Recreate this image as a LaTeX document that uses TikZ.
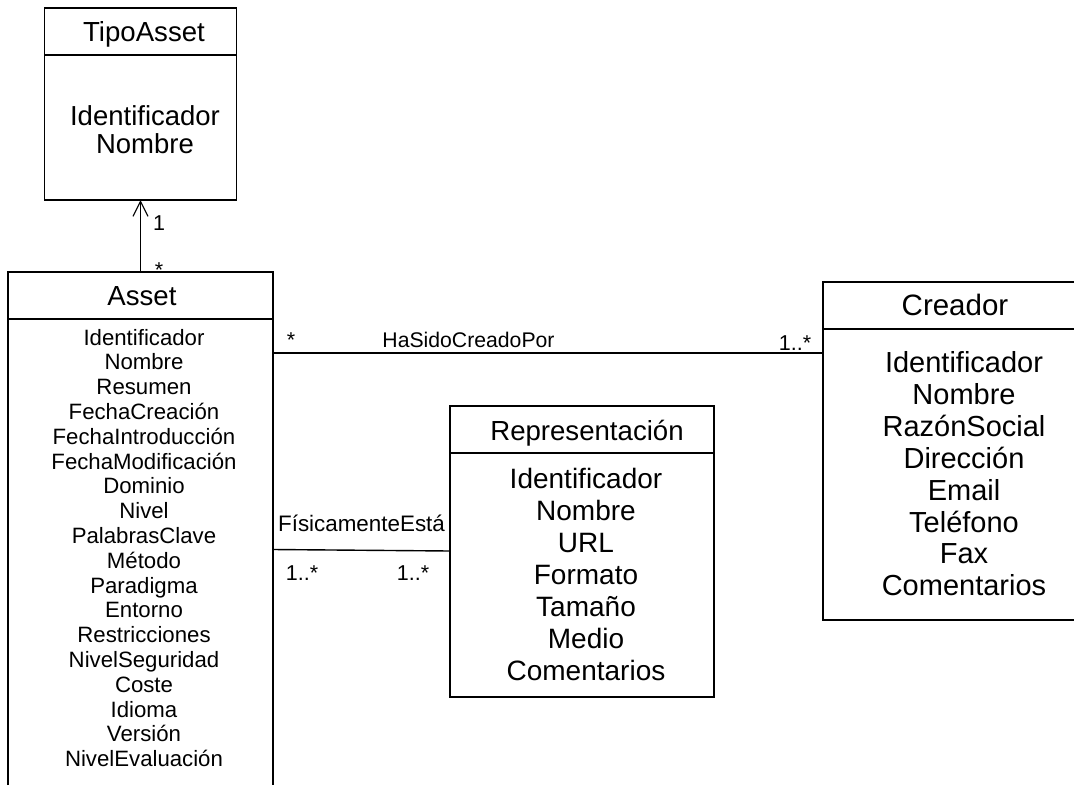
\documentclass[tikz,border=0pt]{standalone}
\usepackage{fontspec}
\setmainfont{Liberation Sans}
\usetikzlibrary{arrows.meta}
\tikzset{
  classbox/.style={draw, line width=1.2pt, rectangle, inner sep=0pt, outer sep=0pt, anchor=north west},
  openbox/.style={draw=none, rectangle, inner sep=0pt, outer sep=0pt, anchor=north west},
  divider/.style={line width=1.2pt},
  conn/.style={line width=1.4pt},
  titletxt/.style={font=\fontsize{27.6}{30}\selectfont, anchor=base, inner sep=0pt},
  attrbig/.style={font=\fontsize{28}{30}\selectfont, anchor=base, inner sep=0pt},
  attrsmall/.style={font=\fontsize{22.2}{24}\selectfont, anchor=base, inner sep=0pt},
  lbl/.style={font=\fontsize{21.5}{23}\selectfont, anchor=base, inner sep=0pt},
}
\begin{document}
\begin{tikzpicture}[x=1pt,y=-1pt]
\useasboundingbox (0,0) rectangle (1074,785);
\fill[white] (0,0) rectangle (1074,785);

% TipoAsset
\node[classbox, minimum width=192pt, minimum height=192pt] (tipo) at (44.5,8) {};
\draw[divider] (tipo.west |- 0,55) -- (tipo.east |- 0,55);
\node[titletxt] (tipotitle) at (144,41.5) {TipoAsset};
\foreach \t [count=\i] in {Identificador,Nombre}
  \node[attrbig, font=\fontsize{27.5}{30}\selectfont] (tipoattr\i) at (145,{125+28*(\i-1)}) {\t};

% Asset (open at the bottom, cut by the picture edge)
\node[openbox, minimum width=265pt, minimum height=513pt] (asset) at (8,272) {};
\draw[divider] (asset.south west) -- (asset.north west) -- (asset.north east) -- (asset.south east);
\draw[divider] (asset.west |- 0,319) -- (asset.east |- 0,319);
\node[titletxt] (assettitle) at (142,305) {Asset};
\foreach \t [count=\i] in {Identificador,Nombre,Resumen,FechaCreación,FechaIntroducción,FechaModificación,Dominio,Nivel,PalabrasClave,Método,Paradigma,Entorno,Restricciones,NivelSeguridad,Coste,Idioma,Versión,NivelEvaluación}
  \node[attrsmall] (assetattr\i) at (144,{345+24.8*(\i-1)}) {\t};

% Creador (open at the right, cut by the picture edge)
\node[openbox, minimum width=251pt, minimum height=338pt] (creador) at (823,282) {};
\draw[divider] (creador.north east) -- (creador.north west) -- (creador.south west) -- (creador.south east);
\draw[divider] (creador.west |- 0,329) -- (creador.east |- 0,329);
\node[titletxt, font=\fontsize{29.5}{31}\selectfont] (creadortitle) at (955,315.5) {Creador};
\foreach \t [count=\i] in {Identificador,Nombre,RazónSocial,Dirección,Email,Teléfono,Fax,Comentarios}
  \node[attrbig, font=\fontsize{29}{31}\selectfont] (creadorattr\i) at (964,{372.5+31.9*(\i-1)}) {\t};

% Representacion
\node[classbox, minimum width=264pt, minimum height=291pt] (repr) at (450,406) {};
\draw[divider] (repr.west |- 0,453) -- (repr.east |- 0,453);
\node[titletxt] (reprtitle) at (587,440) {Representación};
\foreach \t [count=\i] in {Identificador,Nombre,URL,Formato,Tamaño,Medio,Comentarios}
  \node[attrbig] (reprattr\i) at (586,{488+32*(\i-1)}) {\t};

% Connectors
\draw[line width=1.2pt, -{Straight Barb[length=15pt,width=15pt,line width=1.2pt]}] (asset.north) -- (tipo.south);
\node[lbl] (m1) at (159,230) {1};
\node[lbl] (m2) at (159,277) {*};

\coordinate (hsA) at (asset.east |- 0,353);
\coordinate (hsC) at (creador.west |- 0,353);
\draw[conn] (hsA) -- (hsC);
\node[lbl, font=\fontsize{21.2}{23}\selectfont] (hslabel) at (468.5,347) {HaSidoCreadoPor};
\node[lbl] (hsm1) at (291,347) {*};
\node[lbl] (hsm2) at (795,350) {1..*};

\coordinate (feA) at (asset.east |- 0,549.5);
\coordinate (feR) at (repr.west |- 0,551);
\draw[conn] (feA) -- (feR);
\node[lbl, font=\fontsize{22.4}{24}\selectfont] (felabel) at (361.5,531.5) {FísicamenteEstá};
\node[lbl] (fem1) at (302,580) {1..*};
\node[lbl] (fem2) at (413,580) {1..*};
\end{tikzpicture}
\end{document}
